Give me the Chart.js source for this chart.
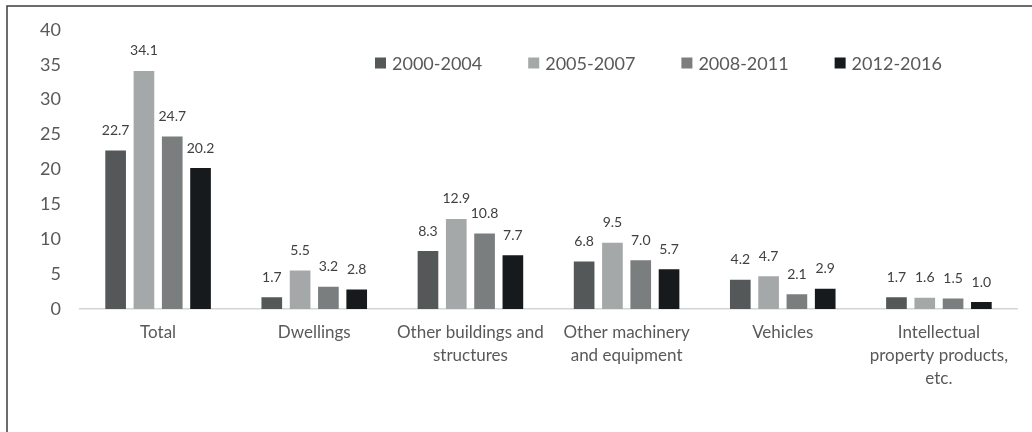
<!DOCTYPE html>
<html>
<head>
<meta charset="utf-8">
<script src="https://cdn.jsdelivr.net/npm/chart.js@4/dist/chart.umd.min.js"></script>
<style>
  html, body { margin: 0; padding: 0; background: #fff; }
  #wrap { width: 1032px; height: 432px; position: relative; }
</style>
</head>
<body>
<div id="wrap"><canvas id="canvas" width="1032" height="432"></canvas></div>
<script>
'use strict';

const categories = [
   'Total',
   'Dwellings',
   ['Other buildings and', 'structures'],
   ['Other machinery', 'and equipment'],
   'Vehicles',
   ['Intellectual', 'property products,', 'etc.']
];
const periods = ['2000-2004', '2005-2007', '2008-2011', '2012-2016'];
const values2000 = [22.7, 1.7, 8.3, 6.8, 4.2, 1.7];
const values2005 = [34.1, 5.5, 12.9, 9.5, 4.7, 1.6];
const values2008 = [24.7, 3.2, 10.8, 7.0, 2.1, 1.5];
const values2012 = [20.2, 2.8, 7.7, 5.7, 2.9, 1.0];
const colors = ['#545859', '#a5a8a8', '#7b7e7e', '#161a1c'];
const yTicks = [0, 5, 10, 15, 20, 25, 30, 35, 40];

const FONT = 'Lato, "Noto Sans", sans-serif';
const TEXT = '#595959';

// frame drawn around the chart (only left and top visible in the crop)
const framePlugin = {
   id: 'frame',
   beforeDraw(chart) {
      let c = chart.ctx;
      c.save();
      c.fillStyle = '#fff';
      c.fillRect(0, 0, chart.width, chart.height);
      c.strokeStyle = '#3c3c3c';
      c.lineWidth = 1.5;
      c.beginPath();
      c.moveTo(7, chart.height);
      c.lineTo(7, 6);
      c.lineTo(chart.width, 6);
      c.stroke();
      c.restore();
   }
};

// value labels above each bar
const valueLabels = {
   id: 'valueLabels',
   afterDatasetsDraw(chart) {
      let c = chart.ctx;
      c.save();
      c.font = '14px ' + FONT;
      c.fillStyle = '#404040';
      c.textAlign = 'center';
      c.textBaseline = 'bottom';
      chart.data.datasets.forEach((ds, i) => {
         let meta = chart.getDatasetMeta(i);
         meta.data.forEach((bar, j) => {
            c.fillText(ds.data[j].toFixed(1), bar.x, bar.y - 13);
         });
      });
      c.restore();
   }
};

// legend placed inside the plot area, upper right
const innerLegend = {
   id: 'innerLegend',
   afterDraw(chart) {
      let c = chart.ctx;
      c.save();
      c.font = '18px ' + FONT;
      c.textBaseline = 'middle';
      let x = chart.chartArea.left + 295;
      let y = 63;
      chart.data.datasets.forEach(ds => {
         c.fillStyle = ds.backgroundColor;
         c.fillRect(x, y - 5.5, 11, 11);
         c.fillStyle = TEXT;
         c.fillText(ds.label, x + 17, y + 1);
         x += 17 + c.measureText(ds.label).width + 46;
      });
      c.restore();
   }
};

const seriesValues = [values2000, values2005, values2008, values2012];

let ctx = document.querySelector('#canvas').getContext('2d');
let chart = new Chart(ctx, {
   type: 'bar',
   data: {
      labels: categories,
      datasets: periods.map((p, i) => ({
         label: p,
         data: seriesValues[i],
         backgroundColor: colors[i],
         barPercentage: 0.73,
         categoryPercentage: 0.725
      }))
   },
   plugins: [framePlugin, valueLabels, innerLegend],
   options: {
      responsive: false,
      animation: false,
      layout: { padding: { top: 27, right: 15, bottom: 0, left: 0 } },
      plugins: {
         legend: { display: false },
         tooltip: { enabled: false }
      },
      scales: {
         x: {
            grid: { display: false, drawTicks: false },
            border: { display: true, color: '#d4d4d4', width: 1.5 },
            ticks: {
               color: TEXT,
               font: { family: FONT, size: 17, lineHeight: 1.36 },
               padding: 12,
               maxRotation: 0,
               autoSkip: false
            },
            afterFit(scale) { scale.height = 123; }
         },
         y: {
            min: 0,
            max: 40,
            afterBuildTicks(scale) { scale.ticks = yTicks.map(v => ({ value: v })); },
            grid: { display: false, drawTicks: false },
            border: { display: false },
            ticks: {
               color: TEXT,
               font: { family: FONT, size: 18 },
               padding: 19
            },
            afterFit(scale) { scale.width = 80; }
         }
      }
   }
});
</script>
</body>
</html>
